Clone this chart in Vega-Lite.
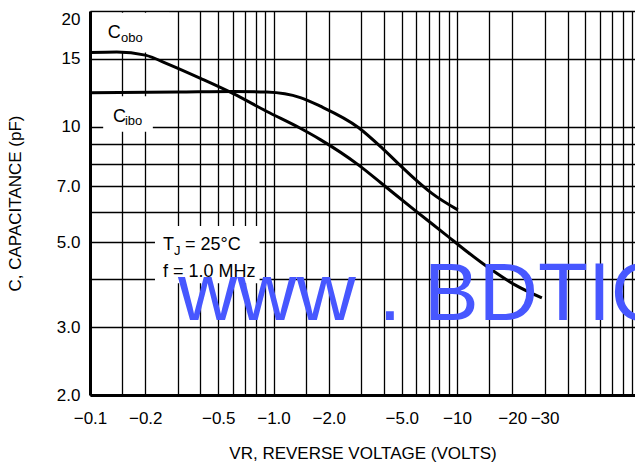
{
  "$schema": "https://vega.github.io/schema/vega-lite/v6.json",
  "width": 545,
  "height": 384,
  "autosize": {"type": "none"},
  "padding": {"left": 90, "top": 11, "right": 0, "bottom": 75},
  "background": "white",
  "config": {"view": {"stroke": null}, "font": "Liberation Sans"},
  "datasets": {
    "boxes": [
      {"x1": 0.103, "x2": 0.27, "y1": 15.6, "y2": 19.8},
      {"x1": 0.118, "x2": 0.22, "y1": 9.7, "y2": 12.0},
      {"x1": 0.226, "x2": 0.84, "y1": 3.91, "y2": 5.51}
    ],
    "curves": [
      {"series": "Cobo", "v": 0.1, "c": 15.6},
      {"series": "Cobo", "v": 0.14, "c": 15.65},
      {"series": "Cobo", "v": 0.2, "c": 15.35},
      {"series": "Cobo", "v": 0.27, "c": 14.5},
      {"series": "Cobo", "v": 0.4, "c": 13.35},
      {"series": "Cobo", "v": 0.6, "c": 12.2},
      {"series": "Cobo", "v": 0.92, "c": 10.95},
      {"series": "Cobo", "v": 1.4, "c": 9.9},
      {"series": "Cobo", "v": 1.8, "c": 9.25},
      {"series": "Cobo", "v": 2.9, "c": 7.95},
      {"series": "Cobo", "v": 3.9, "c": 7.1},
      {"series": "Cobo", "v": 5.9, "c": 6.05},
      {"series": "Cobo", "v": 8.6, "c": 5.25},
      {"series": "Cobo", "v": 11.5, "c": 4.7},
      {"series": "Cobo", "v": 15.5, "c": 4.23},
      {"series": "Cobo", "v": 20.7, "c": 3.87},
      {"series": "Cobo", "v": 29, "c": 3.58},
      {"series": "Cibo", "v": 0.1, "c": 12.25},
      {"series": "Cibo", "v": 0.3, "c": 12.3},
      {"series": "Cibo", "v": 0.6, "c": 12.35},
      {"series": "Cibo", "v": 0.92, "c": 12.3},
      {"series": "Cibo", "v": 1.4, "c": 11.9},
      {"series": "Cibo", "v": 1.8, "c": 11.3},
      {"series": "Cibo", "v": 2.9, "c": 9.95},
      {"series": "Cibo", "v": 3.9, "c": 8.8},
      {"series": "Cibo", "v": 4.8, "c": 8.0},
      {"series": "Cibo", "v": 5.9, "c": 7.3},
      {"series": "Cibo", "v": 7.3, "c": 6.7},
      {"series": "Cibo", "v": 10.1, "c": 6.07}
    ],
    "labels": [
      {"t": "C", "v": 0.125, "c": 17.0},
      {"t": "C", "v": 0.1335, "c": 10.28},
      {"t": "T", "v": 0.25, "c": 4.77},
      {"t": "= 25°C", "v": 0.3294, "c": 4.77},
      {"t": "f = 1.0 MHz", "v": 0.25, "c": 4.06}
    ],
    "subs": [
      {"t": "obo", "v": 0.1475, "c": 16.6},
      {"t": "ibo", "v": 0.155, "c": 10.1},
      {"t": "J", "v": 0.2867, "c": 4.63}
    ],
    "watermark": [
      {"t": "www . BDTIC.com", "v": 0.3017, "c": 3.135}
    ]
  },
  "layer": [
    {
      "data": {"name": "boxes"},
      "mark": {"type": "rect", "fill": "white", "stroke": null},
      "encoding": {
        "x": {
          "field": "x1", "type": "quantitative",
          "scale": {"type": "log", "domain": [0.1, 93.3], "nice": false},
          "axis": {
            "values": [0.1, 0.15, 0.2, 0.3, 0.4, 0.5, 0.6, 0.7, 0.8, 0.9, 1, 1.5, 2, 3, 4, 5, 6, 7, 8, 9, 10, 15, 20, 30, 40, 50, 60, 70, 80, 90],
            "labelExpr": "datum.value == 0.1 ? '−0.1' : datum.value == 0.2 ? '−0.2' : datum.value == 0.5 ? '−0.5' : datum.value == 1 ? '−1.0' : datum.value == 2 ? '−2.0' : datum.value == 5 ? '−5.0' : datum.value == 10 ? '−10' : datum.value == 20 ? '−20' : datum.value == 30 ? '−30' : ''",
            "grid": true, "gridColor": "#000", "gridWidth": 1.3, "gridOpacity": 1,
            "ticks": false, "domain": true, "domainColor": "#000", "domainWidth": 3,
            "labelFont": "Liberation Sans", "labelFontSize": 17, "labelColor": "#000",
            "labelPadding": 15, "labelFlush": false, "labelOverlap": false,
            "title": "VR, REVERSE VOLTAGE (VOLTS)",
            "titleFont": "Liberation Sans", "titleFontSize": 17, "titleFontWeight": "normal",
            "titleColor": "#000", "titlePadding": 19
          }
        },
        "x2": {"field": "x2"},
        "y": {
          "field": "y1", "type": "quantitative",
          "scale": {"type": "log", "domain": [2, 20], "nice": false},
          "axis": {
            "values": [2, 3, 4, 5, 6, 7, 8, 9, 10, 15, 20],
            "labelExpr": "datum.value == 2 ? '2.0' : datum.value == 3 ? '3.0' : datum.value == 5 ? '5.0' : datum.value == 7 ? '7.0' : datum.value == 10 ? '10' : datum.value == 15 ? '15' : datum.value == 20 ? '20' : ''",
            "labelBaseline": {"condition": {"test": "datum.value == 20", "value": "top"}, "value": "middle"},
            "grid": true, "gridColor": "#000", "gridWidth": 1.3, "gridOpacity": 1,
            "ticks": false, "domain": true, "domainColor": "#000", "domainWidth": 3,
            "labelFont": "Liberation Sans", "labelFontSize": 17, "labelColor": "#000",
            "labelPadding": 10, "labelFlush": false, "labelOverlap": false,
            "title": "C, CAPACITANCE (pF)",
            "titleFont": "Liberation Sans", "titleFontSize": 17, "titleFontWeight": "normal",
            "titleColor": "#000", "titlePadding": 32
          }
        },
        "y2": {"field": "y2"}
      }
    },
    {
      "data": {"name": "curves"},
      "mark": {"type": "line", "color": "#000", "strokeWidth": 3, "interpolate": "monotone"},
      "encoding": {
        "x": {"field": "v", "type": "quantitative"},
        "y": {"field": "c", "type": "quantitative"},
        "detail": {"field": "series"}
      }
    },
    {
      "data": {"name": "labels"},
      "mark": {"type": "text", "font": "Liberation Sans", "fontSize": 18, "color": "#000", "align": "left", "baseline": "alphabetic"},
      "encoding": {
        "x": {"field": "v", "type": "quantitative"},
        "y": {"field": "c", "type": "quantitative"},
        "text": {"field": "t"}
      }
    },
    {
      "data": {"name": "subs"},
      "mark": {"type": "text", "font": "Liberation Sans", "fontSize": 13, "color": "#000", "align": "left", "baseline": "alphabetic"},
      "encoding": {
        "x": {"field": "v", "type": "quantitative"},
        "y": {"field": "c", "type": "quantitative"},
        "text": {"field": "t"}
      }
    },
    {
      "data": {"name": "watermark"},
      "mark": {"type": "text", "font": "Liberation Sans", "fontSize": 82, "color": "#4757FF", "align": "left", "baseline": "alphabetic"},
      "encoding": {
        "x": {"field": "v", "type": "quantitative"},
        "y": {"field": "c", "type": "quantitative"},
        "text": {"field": "t"}
      }
    }
  ]
}
